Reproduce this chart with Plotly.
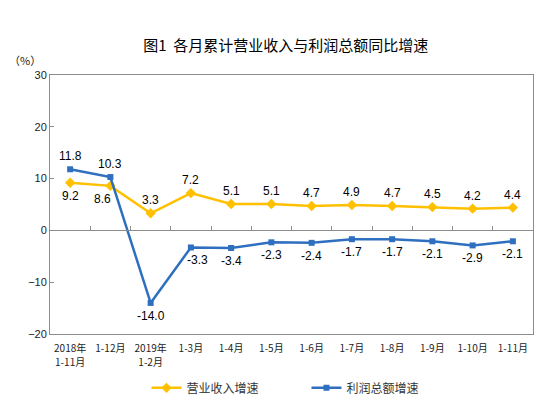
import plotly.graph_objects as go

categories = ["2018年", "1-12月", "2019年", "1-3月", "1-4月", "1-5月",
              "1-6月", "1-7月", "1-8月", "1-9月", "1-10月", "1-11月"]
categories_line2 = ["1-11月", "", "1-2月", "", "", "", "", "", "", "", "", ""]
revenue = [9.2, 8.6, 3.3, 7.2, 5.1, 5.1, 4.7, 4.9, 4.7, 4.5, 4.2, 4.4]
profit = [11.8, 10.3, -14.0, -3.3, -3.4, -2.3, -2.4, -1.7, -1.7, -2.1, -2.9, -2.1]
# label placement: +1 above the point, -1 below
revenue_side = [-1, -1, 1, 1, 1, 1, 1, 1, 1, 1, 1, 1]
profit_side = [1, 1, -1, -1, -1, -1, -1, -1, -1, -1, -1, -1]
revenue_dx = [0, -8, 0, 0, 0, 0, 0, 0, 0, 0, 0, 0]
profit_dx = [0, 0, 0, 7, 0, 0, 0, 0, 0, 0, 0, 0]

YELLOW = "#FFC000"
BLUE = "#2E6FC0"
AXIS = "#8C8C8C"
FONT = "Liberation Sans, Noto Sans CJK SC, sans-serif"
CJK = "Noto Sans CJK SC, sans-serif"

x = list(range(len(categories)))
xr = [-0.5, len(categories) - 0.5]

fig = go.Figure()
fig.add_trace(go.Scatter(
    x=x, y=revenue, name="营业收入增速", mode="lines+markers",
    line=dict(color=YELLOW, width=2.5),
    marker=dict(symbol="diamond", size=8, color=YELLOW),
))
fig.add_trace(go.Scatter(
    x=x, y=profit, name="利润总额增速", mode="lines+markers",
    line=dict(color=BLUE, width=2.5),
    marker=dict(symbol="square", size=6, color=BLUE),
))
# helper traces so the zero axis and second label row are drawn
fig.add_trace(go.Scatter(x=[None], y=[None], xaxis="x2", showlegend=False, hoverinfo="skip"))
fig.add_trace(go.Scatter(x=[None], y=[None], xaxis="x3", showlegend=False, hoverinfo="skip"))

annotations = []
for series, sides, dxs in ((revenue, revenue_side, revenue_dx), (profit, profit_side, profit_dx)):
    for xi, v, s, dx in zip(x, series, sides, dxs):
        annotations.append(dict(
            x=xi, y=v, xref="x", yref="y", text=f"{v:.1f}", showarrow=False,
            xanchor="center", yanchor="middle", yshift=13 * s, xshift=dx,
            font=dict(family=FONT, size=12, color="#000000")))
annotations.append(dict(text="（%）", xref="paper", yref="paper", x=-0.052, y=1.058,
                        xanchor="center", yanchor="middle", showarrow=False,
                        font=dict(family=CJK, size=11, color="#222222")))

fig.update_layout(
    width=550, height=397,
    margin=dict(l=42, r=25, t=67, b=71, autoexpand=False),
    paper_bgcolor="white", plot_bgcolor="white",
    font=dict(family=FONT, color="#000000"),
    title=dict(text="图1  各月累计营业收入与利润总额同比增速", x=0.505, xanchor="center",
               y=1 - 38 / 397, yanchor="middle", yref="container",
               font=dict(family=CJK, size=15, color="#000000")),
    xaxis=dict(range=xr, tickmode="array", tickvals=x,
               ticktext=categories, ticks="", showgrid=False, zeroline=False,
               showline=True, linecolor=AXIS, linewidth=1, mirror=True,
               automargin=False, ticklabelstandoff=5,
               tickfont=dict(family=CJK, size=10, color="#222222")),
    xaxis3=dict(range=xr, overlaying="x", anchor="y", side="bottom", tickmode="array",
                tickvals=x, ticktext=categories_line2, ticks="", showline=False,
                showgrid=False, zeroline=False, automargin=False, ticklabelstandoff=21,
                tickfont=dict(family=CJK, size=10, color="#222222")),
    xaxis2=dict(range=xr, overlaying="x", anchor="free",
                position=0.4, tickmode="array",
                tickvals=[i + 0.5 for i in range(len(categories) - 1)],
                showticklabels=False, ticks="inside", ticklen=4, tickcolor=AXIS,
                automargin=False,
                showline=True, linecolor=AXIS, linewidth=1, showgrid=False, zeroline=False),
    yaxis=dict(range=[-20, 30], dtick=10, tick0=0, showgrid=False, zeroline=False,
               showline=True, linecolor=AXIS, linewidth=1, mirror=True,
               ticks="inside", ticklen=4, tickcolor=AXIS, automargin=False,
               tickfont=dict(family=FONT, size=11, color="#222222")),
    legend=dict(orientation="h", x=0.531, xanchor="center", y=-0.208, yanchor="middle",
                font=dict(family=CJK, size=12, color="#333333"),
                entrywidth=115, itemwidth=30),
    showlegend=True,
    annotations=annotations,
)

fig.write_html("out.html")
